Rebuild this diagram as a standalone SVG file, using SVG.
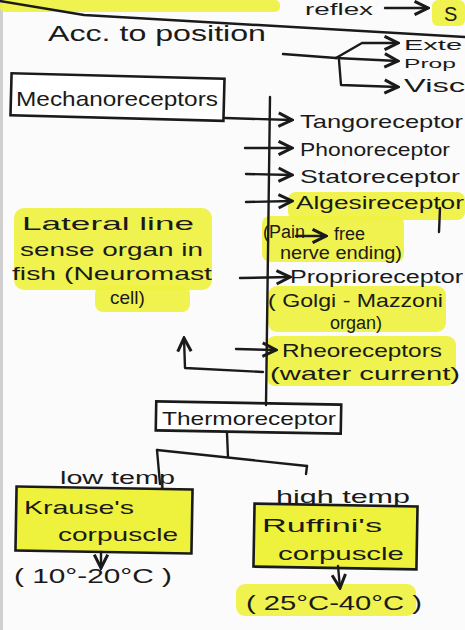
<svg xmlns="http://www.w3.org/2000/svg" width="465" height="630" viewBox="0 0 465 630">
<defs>
<style>
.t{font-family:"Liberation Sans","DejaVu Sans",sans-serif;fill:#1a1a1a;}
.ln{stroke:#1a1a1a;stroke-width:2.4;fill:none;stroke-linecap:round;stroke-linejoin:round;}
.bx{stroke:#1a1a1a;stroke-width:2.6;fill:#ffffff;}
.hl{fill:#eef23c;opacity:0.9;}
</style>
<marker id="ah" viewBox="0 0 10 10" refX="9" refY="5" markerWidth="7" markerHeight="7" orient="auto-start-reverse">
<path d="M1,1 L9,5 L1,9" fill="none" stroke="#1a1a1a" stroke-width="1.8"/>
</marker>
</defs>
<rect width="465" height="630" fill="#fbfbfb"/>
<rect x="0" y="0" width="3" height="630" fill="#d0d0d0"/>

<g id="highlights">
<rect class="hl" x="0" y="0" width="280" height="12" rx="5"/>
<rect class="hl" x="432" y="0" width="33" height="26" rx="6"/>
<rect class="hl" x="288" y="192" width="177" height="28" rx="8"/>
<rect class="hl" x="262" y="216" width="142" height="46" rx="8"/>
<rect class="hl" x="268" y="286" width="178" height="46" rx="9"/>
<rect class="hl" x="266" y="336" width="190" height="50" rx="9"/>
<rect class="hl" x="14" y="208" width="198" height="82" rx="10"/>
<rect class="hl" x="95" y="286" width="95" height="26" rx="8"/>
<rect class="hl" x="236" y="584" width="180" height="32" rx="9"/>
</g>

<g id="top">
<path class="ln" d="M0,1 L84,15 L465,37"/>
<text class="t" x="305" y="15" font-size="16" textLength="68" lengthAdjust="spacingAndGlyphs">reflex</text>
<line class="ln" x1="385" y1="8" x2="428" y2="8" marker-end="url(#ah)"/>
<text class="t" x="444" y="21" font-size="20">S</text>
</g>

<g id="position">
<text class="t" x="48" y="41" font-size="22" textLength="218" lengthAdjust="spacingAndGlyphs">Acc. to position</text>
</g>

<g id="ext"><text class="t" x="404" y="50" font-size="14" textLength="58" lengthAdjust="spacingAndGlyphs">Exte</text></g>
<g id="prop"><text class="t" x="404" y="68" font-size="13" textLength="52" lengthAdjust="spacingAndGlyphs">Prop</text></g>
<g id="visc"><text class="t" x="404" y="92" font-size="18" textLength="61" lengthAdjust="spacingAndGlyphs">Visc</text></g>

<g id="mechanoreceptors">
<rect class="bx" x="11" y="76" width="213" height="42" transform="rotate(1.5 117 97)"/>
<text class="t" x="16" y="106" font-size="21" textLength="202" lengthAdjust="spacingAndGlyphs">Mechanoreceptors</text>
</g>

<g id="tangoreceptor"><text class="t" x="300" y="128" font-size="19" textLength="163" lengthAdjust="spacingAndGlyphs">Tangoreceptor</text></g>
<g id="phonoreceptor"><text class="t" x="300" y="156" font-size="19" textLength="150" lengthAdjust="spacingAndGlyphs">Phonoreceptor</text></g>
<g id="statoreceptor"><text class="t" x="300" y="183" font-size="19" textLength="160" lengthAdjust="spacingAndGlyphs">Statoreceptor</text></g>
<g id="algesireceptor">
<text class="t" x="296" y="209" font-size="18" textLength="168" lengthAdjust="spacingAndGlyphs">Algesireceptor</text>
<text class="t" x="263" y="238" font-size="18">(Pain</text>
<text class="t" x="334" y="240" font-size="18">free</text>
<text class="t" x="280" y="259" font-size="18" textLength="122" lengthAdjust="spacingAndGlyphs">nerve ending)</text>
</g>
<g id="proprioreceptor">
<text class="t" x="290" y="283" font-size="18" textLength="173" lengthAdjust="spacingAndGlyphs">Proprioreceptor</text>
<text class="t" x="268" y="307" font-size="19" textLength="175" lengthAdjust="spacingAndGlyphs">( Golgi - Mazzoni</text>
<text class="t" x="330" y="329" font-size="18">organ)</text>
</g>
<g id="rheoreceptors">
<text class="t" x="282" y="357" font-size="19" textLength="160" lengthAdjust="spacingAndGlyphs">Rheoreceptors</text>
<text class="t" x="270" y="380" font-size="19" textLength="190" lengthAdjust="spacingAndGlyphs">(water current)</text>
</g>
<g id="lateral-line">
<text class="t" x="22" y="230" font-size="19" textLength="172" lengthAdjust="spacingAndGlyphs">Lateral    line</text>
<text class="t" x="20" y="256" font-size="19" textLength="183" lengthAdjust="spacingAndGlyphs">sense organ in</text>
<text class="t" x="12" y="280" font-size="19" textLength="200" lengthAdjust="spacingAndGlyphs">fish (Neuromast</text>
<text class="t" x="110" y="304" font-size="19">cell)</text>
</g>

<g id="thermoreceptor">
<rect class="bx" x="156" y="403" width="185" height="29" transform="rotate(1 248 417)"/>
<text class="t" x="162" y="425" font-size="19" textLength="174" lengthAdjust="spacingAndGlyphs">Thermoreceptor</text>
</g>

<g id="krause">
<text class="t" x="60" y="484" font-size="18" textLength="115" lengthAdjust="spacingAndGlyphs">low temp</text>
<rect x="16" y="488" width="176" height="64" fill="#eef23c" stroke="#1a1a1a" stroke-width="2.6" transform="rotate(1 104 520)"/>
<text class="t" x="24" y="514" font-size="19" textLength="110" lengthAdjust="spacingAndGlyphs">Krause's</text>
<text class="t" x="58" y="541" font-size="19" textLength="120" lengthAdjust="spacingAndGlyphs">corpuscle</text>
<text class="t" x="14" y="583" font-size="21" textLength="158" lengthAdjust="spacingAndGlyphs">( 10°-20°C )</text>
</g>

<g id="ruffini">
<text class="t" x="276" y="503" font-size="18" textLength="134" lengthAdjust="spacingAndGlyphs">high temp</text>
<rect x="254" y="505" width="163" height="63" fill="#eef23c" stroke="#1a1a1a" stroke-width="2.6" transform="rotate(1 335 536)"/>
<text class="t" x="262" y="532" font-size="19" textLength="120" lengthAdjust="spacingAndGlyphs">Ruffini's</text>
<text class="t" x="278" y="560" font-size="19" textLength="126" lengthAdjust="spacingAndGlyphs">corpuscle</text>
<text class="t" x="246" y="610" font-size="21" textLength="176" lengthAdjust="spacingAndGlyphs">( 25°C-40°C )</text>
</g>

<g id="connectors">
<path class="ln" d="M283,54 L336,58"/>
<path class="ln" d="M336,58 L362,43 L398,43" marker-end="url(#ah)"/>
<path class="ln" d="M336,58 L398,61" marker-end="url(#ah)"/>
<path class="ln" d="M339,60 L341,85 L398,87" marker-end="url(#ah)"/>
<path class="ln" d="M225,118 L292,120" marker-end="url(#ah)"/>
<path class="ln" d="M270,97 L266,405"/>
<path class="ln" d="M245,148 L292,148" marker-end="url(#ah)"/>
<path class="ln" d="M246,174 L292,175" marker-end="url(#ah)"/>
<path class="ln" d="M246,202 L292,201" marker-end="url(#ah)"/>
<path class="ln" d="M296,236 L326,236" marker-end="url(#ah)"/>
<path class="ln" d="M440,208 L439,232"/>
<path class="ln" d="M240,278 L290,277" marker-end="url(#ah)"/>
<path class="ln" d="M236,349 L276,350" marker-end="url(#ah)"/>
<path class="ln" d="M263,372 L185,368 L184,338" marker-end="url(#ah)"/>
<path class="ln" d="M227,433 L228,457"/>
<path class="ln" d="M157,450 L307,466"/>
<path class="ln" d="M157,450 L160,484"/>
<path class="ln" d="M307,466 L306,474"/>
<path class="ln" d="M101,552 L101,568" marker-end="url(#ah)"/>
<path class="ln" d="M338,566 L340,588" marker-end="url(#ah)"/>
</g>
</svg>
